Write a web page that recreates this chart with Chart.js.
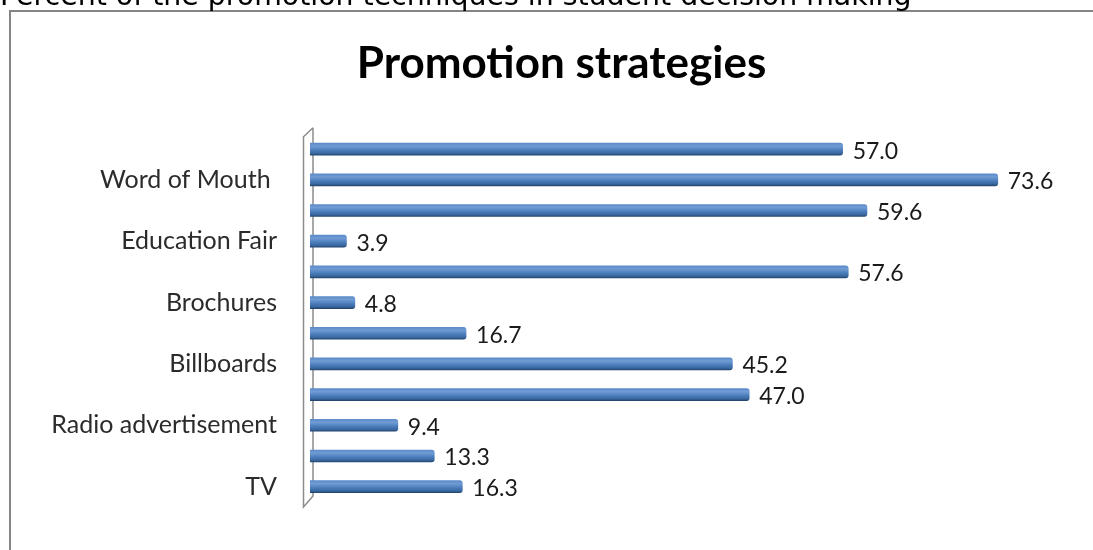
<!DOCTYPE html>
<html>
<head>
<meta charset="utf-8">
<script src="https://cdn.jsdelivr.net/npm/chart.js@4.4.1/dist/chart.umd.min.js"></script>
<style>
  html, body { margin: 0; padding: 0; background: #fff; overflow: hidden; }
  #wrap { position: relative; width: 1093px; height: 550px; overflow: hidden; }
  #caption { position: absolute; left: 0; top: -16px; font-family: "DejaVu Sans"; font-size: 26px; line-height: 26px; white-space: nowrap; color: #000; }
  #frame { position: absolute; left: 9px; top: 10px; width: 1200px; height: 700px; border: 2px solid #858585; pointer-events: none; }
  canvas { position: absolute; left: 0; top: 0; }
</style>
</head>
<body>
<div id="wrap">
  <canvas id="myChart" width="1123" height="550"></canvas>
  <div id="frame"></div>
  <div id="caption">Percent of the promotion techniques in student decision making</div>
</div>
<script>
// data, top to bottom (only every other category is labelled in the source)
const categories = ["", "Word of Mouth ", "", "Education Fair", "", "Brochures", "", "Billboards", "", "Radio advertisement", "", "TV"];
const percents = [57.0, 73.6, 59.6, 3.9, 57.6, 4.8, 16.7, 45.2, 47.0, 9.4, 13.3, 16.3];
const chartTitle = "Promotion strategies";

// the caption above the frame is cut off at the top of the page, stretch it to its width
const cap = document.getElementById("caption");
const capSize = 26 * 912 / cap.getBoundingClientRect().width;
cap.style.fontSize = capSize + "px";
cap.style.lineHeight = capSize + "px";
cap.style.top = (6.5 - 0.846 * capSize) + "px";

// bar shading, like the old excel cylinder bars
function barFill(c) {
  const chart = c.chart;
  const ys = chart.scales.y;
  if (!ys || !chart.chartArea) return "#4F81BD";
  const y = ys.getPixelForValue(c.dataIndex);
  const g = chart.ctx.createLinearGradient(0, y - 6, 0, y + 6);
  g.addColorStop(0, "#5b8bc9");
  g.addColorStop(0.25, "#719cd4");
  g.addColorStop(0.6, "#4a7cbb");
  g.addColorStop(0.85, "#3a679f");
  g.addColorStop(1, "#24466f");
  return g;
}

// the thin 3d back wall along the category axis
const wallPlugin = {
  id: "wall",
  beforeDatasetsDraw(chart) {
    const { ctx, chartArea } = chart;
    const x0 = chart.scales.x.getPixelForValue(0);
    const top = chartArea.top, bottom = chartArea.bottom;
    ctx.save();
    ctx.strokeStyle = "#8c8c8c";
    ctx.lineWidth = 1.5;
    ctx.beginPath();
    ctx.moveTo(x0 + 3, top - 6);
    ctx.lineTo(x0 - 6.5, top + 3);
    ctx.lineTo(x0 - 6.5, bottom + 5);
    ctx.lineTo(x0 + 3, bottom - 6);
    ctx.lineTo(x0 + 3, top - 6);
    ctx.stroke();
    ctx.restore();
  }
};

// numbers at the bar ends
const valueLabels = {
  id: "valueLabels",
  afterDatasetsDraw(chart) {
    const ctx = chart.ctx;
    const meta = chart.getDatasetMeta(0);
    ctx.save();
    ctx.font = "23px Lato";
    ctx.fillStyle = "#1a1a1a";
    ctx.textAlign = "left";
    ctx.textBaseline = "middle";
    meta.data.forEach((bar, i) => {
      ctx.fillText(percents[i].toFixed(1), bar.x + 10, bar.y + 2);
    });
    ctx.restore();
  }
};

const ctx = document.getElementById("myChart").getContext("2d");
const myChart = new Chart(ctx, {
  type: "bar",
  data: {
    labels: categories,
    datasets: [
      {
        data: percents,
        backgroundColor: barFill,
        borderWidth: 0,
        borderRadius: { topRight: 3, bottomRight: 3 },
        borderSkipped: "start",
        barThickness: 12,
      },
    ],
  },
  options: {
    indexAxis: "y",
    responsive: false,
    animation: false,
    layout: { padding: { top: 0, right: 0, bottom: 32, left: 0 } },
    scales: {
      x: { display: false, min: 0, max: 87 },
      y: {
        grid: { display: false, drawTicks: false },
        border: { display: false },
        ticks: {
          autoSkip: false,
          padding: 33,
          color: "#2b2b2b",
          font: { family: "Lato", size: 25 },
        },
        afterFit(scale) {
          scale.width = 310;
        },
      },
    },
    plugins: {
      legend: { display: false },
      tooltip: { enabled: false },
      title: {
        display: true,
        text: chartTitle,
        color: "#000",
        font: { family: "Lato", size: 44, weight: "bold" },
        padding: { top: 37, bottom: 44 },
      },
    },
  },
  plugins: [wallPlugin, valueLabels],
});
</script>
</body>
</html>
